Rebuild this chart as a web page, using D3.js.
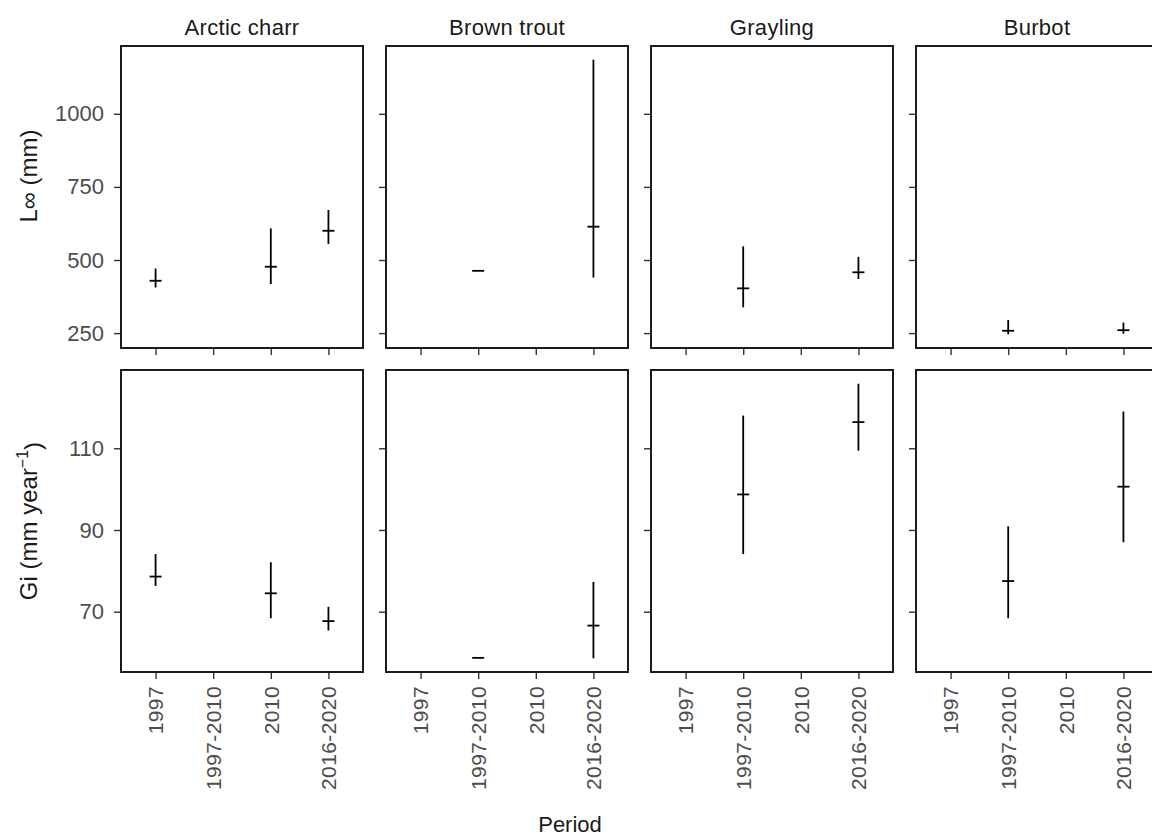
<!DOCTYPE html>
<html>
<head>
<meta charset="utf-8">
<script src="https://cdn.jsdelivr.net/npm/d3@7"></script>
<style>
  html, body { margin: 0; padding: 0; background: #fff; }
  svg { display: block; }
  text { font-family: "Liberation Sans", Arial, sans-serif; }
</style>
</head>
<body>
<svg id="chart" width="1152" height="838"></svg>
<script>
// ---- data ----
const species = ["Arctic charr", "Brown trout", "Grayling", "Burbot"];
const periods = ["1997", "1997-2010", "2010", "2016-2020"];

// [species, period, estimate, lower, upper]
const linfData = [
  ["Arctic charr", "1997", 429, 406, 471],
  ["Arctic charr", "2010", 477, 418, 608],
  ["Arctic charr", "2016-2020", 600, 555, 671],
  ["Brown trout", "1997-2010", 463, null, null],
  ["Brown trout", "2016-2020", 614, 440, 1185],
  ["Grayling", "1997-2010", 403, 338, 547],
  ["Grayling", "2016-2020", 458, 435, 511],
  ["Burbot", "1997-2010", 258, 246, 295],
  ["Burbot", "2016-2020", 260, 248, 286]
];
const giData = [
  ["Arctic charr", "1997", 78.6, 76.3, 84.1],
  ["Arctic charr", "2010", 74.5, 68.4, 82.1],
  ["Arctic charr", "2016-2020", 67.7, 65.4, 71.2],
  ["Brown trout", "1997-2010", 58.7, null, null],
  ["Brown trout", "2016-2020", 66.6, 58.6, 77.3],
  ["Grayling", "1997-2010", 98.7, 84.1, 118.0],
  ["Grayling", "2016-2020", 116.4, 109.4, 125.8],
  ["Burbot", "1997-2010", 77.5, 68.4, 90.9],
  ["Burbot", "2016-2020", 100.6, 87.0, 119.0]
];
const linfTicks = [250, 500, 750, 1000];
const giTicks = [70, 90, 110];

// ---- layout ----
const svg = d3.select("#chart");
const panelW = 242, panelH = 302;
const colX = [121, 386, 651, 916];
const rowY = [46, 370];
const tickLen = 7;
const tickColor = "#333";
const labelColor = "#4D4D4D";

const x = d3.scalePoint().domain(periods).range([0, panelW]).padding(0.6);

function expandedDomain(rows) {
  const vals = [];
  rows.forEach(r => { vals.push(r[2]); if (r[3] != null) vals.push(r[3]); if (r[4] != null) vals.push(r[4]); });
  const [mn, mx] = d3.extent(vals);
  const pad = (mx - mn) * 0.05;
  return [mn - pad, mx + pad];
}

const rows = [
  { data: linfData, ticks: linfTicks, y: d3.scaleLinear().domain(expandedDomain(linfData)).range([panelH, 0]) },
  { data: giData, ticks: giTicks, y: d3.scaleLinear().domain(expandedDomain(giData)).range([panelH, 0]) }
];

rows.forEach((row, ri) => {
  species.forEach((sp, ci) => {
    const g = svg.append("g").attr("transform", `translate(${colX[ci]},${rowY[ri]})`);

    // y axis
    const yAxis = d3.axisLeft(row.y).tickValues(row.ticks).tickSize(tickLen).tickPadding(10)
      .tickFormat(ci === 0 ? d3.format("d") : () => "");
    const ya = g.append("g").call(yAxis);
    ya.select(".domain").remove();
    ya.selectAll(".tick line").attr("stroke", tickColor).attr("stroke-width", 1.4);
    ya.selectAll(".tick text").attr("fill", labelColor).style("font-size", "22px")
      .style("font-family", "'Liberation Sans', Arial, sans-serif");

    // x axis
    const xAxis = d3.axisBottom(x).tickSize(tickLen).tickPadding(6)
      .tickFormat(ri === 1 ? (d => d) : () => "");
    const xa = g.append("g").attr("transform", `translate(0,${panelH})`).call(xAxis);
    xa.select(".domain").remove();
    xa.selectAll(".tick line").attr("stroke", tickColor).attr("stroke-width", 1.4);
    if (ri === 1) {
      xa.selectAll(".tick text")
        .attr("fill", labelColor).style("font-size", "21px")
        .style("font-family", "'Liberation Sans', Arial, sans-serif")
        .style("letter-spacing", "0.4px")
        .attr("text-anchor", "end")
        .attr("transform", "rotate(-90)")
        .attr("x", -(tickLen + 7)).attr("y", 0).attr("dy", "0.35em");
    }

    // error bars and estimates
    const pts = row.data.filter(r => r[0] === sp);
    pts.forEach(r => {
      const cx = x(r[1]);
      if (r[3] != null && r[4] != null) {
        g.append("line").attr("x1", cx).attr("x2", cx)
          .attr("y1", row.y(r[3])).attr("y2", row.y(r[4]))
          .attr("stroke", "#000").attr("stroke-width", 1.8);
      }
      g.append("line").attr("x1", cx - 6).attr("x2", cx + 6)
        .attr("y1", row.y(r[2])).attr("y2", row.y(r[2]))
        .attr("stroke", "#000").attr("stroke-width", 1.8);
    });

    // panel border
    g.append("rect").attr("x", 0).attr("y", 0).attr("width", panelW).attr("height", panelH)
      .attr("fill", "none").attr("stroke", "#111").attr("stroke-width", 1.9);

    // strip title
    if (ri === 0) {
      g.append("text").attr("x", panelW / 2).attr("y", -11)
        .attr("text-anchor", "middle").attr("fill", "#1A1A1A")
        .style("font-size", "22px").style("letter-spacing", "0.3px").text(sp);
    }
  });
});

// axis titles
svg.append("text").attr("transform", "translate(37,176) rotate(-90)")
  .attr("text-anchor", "middle").attr("fill", "#1A1A1A").style("font-size", "24px")
  .text("L∞  (mm)");

const yl2 = svg.append("text").attr("transform", "translate(37,521) rotate(-90)")
  .attr("text-anchor", "middle").attr("fill", "#1A1A1A").style("font-size", "24px");
yl2.append("tspan").text("Gi  (mm year");
yl2.append("tspan").attr("dy", "-0.55em").style("font-size", "16px").text("−1");
yl2.append("tspan").attr("dy", "0.55em").text(")");

svg.append("text").attr("x", 570).attr("y", 832).attr("text-anchor", "middle")
  .attr("fill", "#1A1A1A").style("font-size", "22px").text("Period");
</script>
</body>
</html>
